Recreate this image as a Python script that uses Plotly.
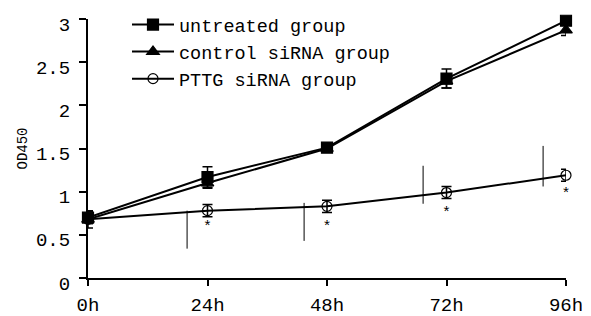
import plotly.graph_objects as go

hours = [0, 24, 48, 72, 96]
tick_labels = ["0h", "24h", "48h", "72h", "96h"]

untreated = [0.70, 1.17, 1.51, 2.31, 2.98]
untreated_err = [0.07, 0.12, 0.05, 0.11, 0.03]

control = [0.68, 1.10, 1.50, 2.28, 2.87]
control_err = [0.10, 0.06, 0.04, 0.08, 0.06]

pttg = [0.68, 0.78, 0.83, 0.99, 1.19]
pttg_err = [0.05, 0.07, 0.07, 0.07, 0.07]

star_x = [24, 48, 72, 96]
star_y = [0.59, 0.59, 0.75, 0.97]

# stray vertical lines visible in the figure
stray_x = [19.9, 43.4, 67.3, 91.4]
stray_lo = [0.34, 0.43, 0.86, 1.06]
stray_hi = [0.78, 0.87, 1.30, 1.53]

FONT = "Liberation Mono"

fig = go.Figure()

def add_series(name, y, err, symbol, size):
    fig.add_trace(go.Scatter(
        x=hours, y=y, name=name, mode="lines+markers",
        line=dict(color="black", width=2),
        marker=dict(symbol=symbol, size=size, color="black",
                    line=dict(color="black", width=1.2)),
        error_y=dict(type="data", array=err, visible=True,
                     color="black", thickness=1.5, width=5),
        cliponaxis=False,
    ))

add_series("untreated group", untreated, untreated_err, "square", 11)
add_series("control siRNA group", control, control_err, "triangle-up", 11)
add_series("PTTG siRNA group", pttg, pttg_err, "circle-open", 10)

sx, sy = [], []
for x, lo, hi in zip(stray_x, stray_lo, stray_hi):
    sx += [x, x, None]
    sy += [lo, hi, None]
fig.add_trace(go.Scatter(x=sx, y=sy, mode="lines", showlegend=False,
                         line=dict(color="black", width=1), hoverinfo="skip"))

fig.add_trace(go.Scatter(x=star_x, y=star_y, mode="text", text=["*"] * len(star_x),
                         textfont=dict(family=FONT, size=15, color="black"),
                         showlegend=False, hoverinfo="skip", cliponaxis=False))

fig.update_layout(
    width=591, height=316,
    margin=dict(l=88, r=25, t=19, b=38, autoexpand=False),
    paper_bgcolor="white", plot_bgcolor="white",
    font=dict(family=FONT, size=19, color="black"),
    showlegend=True,
    legend=dict(xref="container", yref="container", x=127 / 591, y=1 - 6 / 316,
                xanchor="left", yanchor="top",
                bgcolor="rgba(0,0,0,0)", font=dict(family=FONT, size=18.5),
                tracegroupgap=0, itemwidth=42),
    xaxis=dict(range=[0, 96], tickvals=hours, ticktext=tick_labels,
               showline=True, linecolor="black", linewidth=2,
               ticks="outside", ticklen=6, tickwidth=2, tickcolor="black",
               ticklabelstandoff=2,
               showgrid=False, zeroline=False),
    yaxis=dict(range=[0, 3], tickvals=[0, 0.5, 1, 1.5, 2, 2.5, 3],
               ticktext=["0", "0.5", "1", "1.5", "2", "2.5", "3"],
               showline=True, linecolor="black", linewidth=2,
               ticks="outside", ticklen=7, tickwidth=2, tickcolor="black",
               ticklabelstandoff=5, ticklabelshift=5,
               showgrid=False, zeroline=False),
    annotations=[dict(text="OD450", textangle=-90, xref="paper", yref="paper",
                      x=-66 / 478, y=0.5, xanchor="center", yanchor="middle",
                      showarrow=False, font=dict(family=FONT, size=14))],
)

fig.write_html("out.html", post_script="document.body.style.margin='0';",
               config={"displayModeBar": False})
